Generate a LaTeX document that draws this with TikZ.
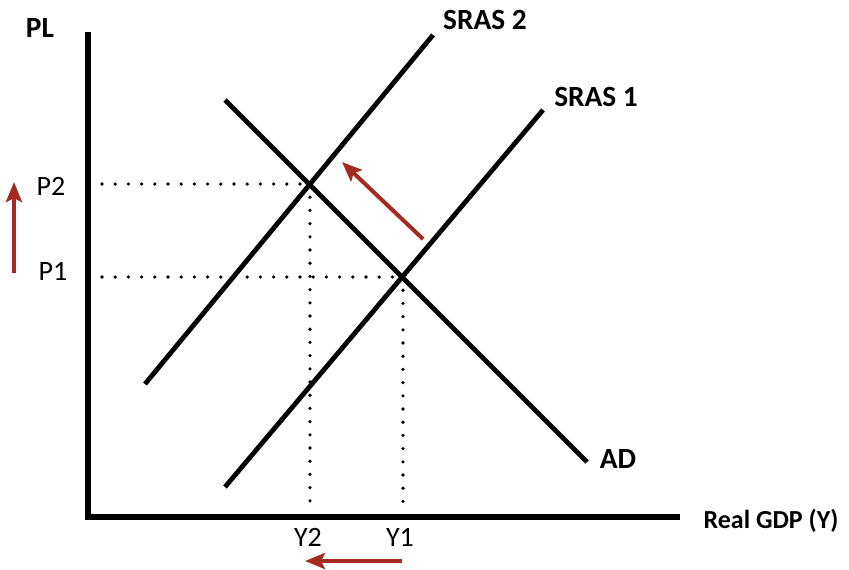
\documentclass[tikz,border=0pt]{standalone}
\usepackage{fontspec}
\setmainfont{Carlito}
\usetikzlibrary{arrows.meta}
\definecolor{shiftred}{RGB}{165,42,32}
\tikzstyle{axis} = [line width=5pt]
\tikzstyle{curve} = [line width=3.6pt]
\tikzstyle{guide} = [line width=2.7pt, line cap=round, dash pattern=on 0pt off 9.9pt]
\tikzstyle{shiftarrow} = [line width=3pt, color=shiftred, -{Stealth[length=15pt,width=12pt,inset=3pt]}]
\tikzstyle{curvelabel} = [font=\fontsize{22}{24}\selectfont\bfseries, inner sep=0pt]
\tikzstyle{ticklabel} = [font=\fontsize{21}{23}\selectfont, inner sep=0pt]

\begin{document}
\begin{tikzpicture}[x=0.75pt, y=-0.75pt]
\useasboundingbox (0,0) rectangle (849,569);

% Axes
\coordinate (origin) at (88,517);
\coordinate (ytop) at (88,32);
\coordinate (xend) at (680,517);
\draw[axis] (88,519.5) -- (ytop);
\draw[axis] (85.5,517) -- (xend);
\node[curvelabel] (pl) at (40,28) {PL};
\node[curvelabel, font=\fontsize{19.5}{21}\selectfont\bfseries] (gdp) at (771,521) {Real GDP (Y)};

% Curves
\coordinate (sras2a) at (145,384);
\coordinate (sras2b) at (433,35);
\coordinate (sras1a) at (225,487);
\coordinate (sras1b) at (543,110);
\coordinate (ada) at (225,100);
\coordinate (adb) at (587,462);
\draw[curve] (sras2a) -- (sras2b);
\draw[curve] (sras1a) -- (sras1b);
\draw[curve] (ada) -- (adb);
\node[curvelabel] (sras2) at (485,20) {SRAS 2};
\node[curvelabel] (sras1) at (596,97) {SRAS 1};
\node[curvelabel] (ad) at (618,459) {AD};

% Equilibria and guides
\coordinate (e2) at (310,184);
\coordinate (e1) at (403,277);
\coordinate (p2axis) at (102,184);
\coordinate (p1axis) at (102,277);
\coordinate (y2axis) at (310,512);
\coordinate (y1axis) at (403,512);
\draw[guide] (p2axis) -- (e2);
\draw[guide] (p1axis) -- (e1);
\draw[guide] (e2) -- (y2axis);
\draw[guide] (e1) -- (y1axis);
\node[ticklabel] (p2) at (51,186) {P2};
\node[ticklabel] (p1) at (53,271) {P1};
\node[ticklabel] (y2) at (308,537) {Y2};
\node[ticklabel] (y1) at (400,537) {Y1};

% Shift arrows
\coordinate (upfrom) at (14,273);
\coordinate (upto) at (14,182);
\coordinate (leftfrom) at (402,561);
\coordinate (leftto) at (305,561);
\coordinate (shiftfrom) at (423,239);
\coordinate (shiftto) at (342,162);
\draw[shiftarrow] (upfrom) -- (upto);
\draw[shiftarrow] (shiftfrom) -- (shiftto);
\draw[shiftarrow] (leftfrom) -- (leftto);

\end{tikzpicture}
\end{document}
